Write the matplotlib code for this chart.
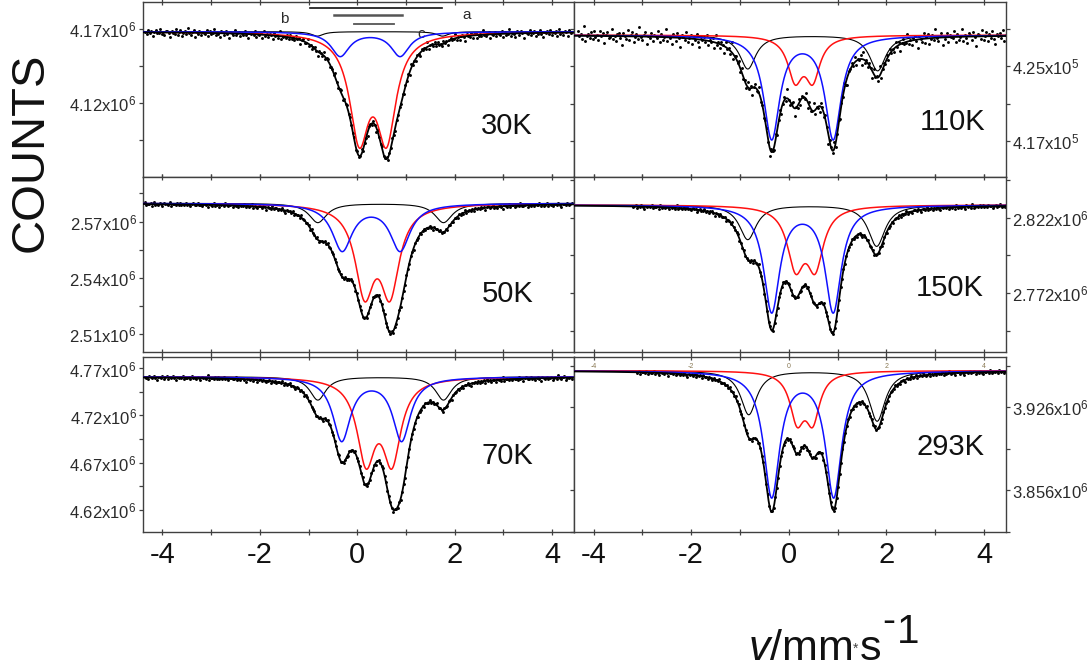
import numpy as np
import matplotlib
matplotlib.use('Agg')
import matplotlib.pyplot as plt
from matplotlib.ticker import FixedLocator, FixedFormatter
import matplotlib.transforms as mtransforms

plt.rcParams['font.family'] = ['Liberation Sans', 'DejaVu Sans']
plt.rcParams['mathtext.fontset'] = 'custom'
plt.rcParams['mathtext.rm'] = 'Liberation Sans'
plt.rcParams['mathtext.it'] = 'Liberation Sans:italic'

# ---------------- data ----------------
temps = ['30K', '110K', '50K', '150K', '70K', '293K']
baseline = [4.168e6, 428300, 2.5798e6, 2.8307e6, 4.7613e6, 3.9569e6]

# outer doublet (thin black)
black_pos = [[-0.82, 1.75], [-0.84, 1.82], [-0.81, 1.77], [-0.84, 1.80], [-0.81, 1.77], [-0.82, 1.81]]
black_depth = [[3000, 3000], [3600, 3800], [10300, 10300], [23000, 27500], [24800, 24800], [37000, 42500]]
black_fwhm = [0.30, 0.40, 0.44, 0.42, 0.40, 0.40]
# blue doublet
blue_pos = [[-0.35, 0.88], [-0.35, 0.91], [-0.31, 0.88], [-0.35, 0.91], [-0.32, 0.91], [-0.35, 0.92]]
blue_depth = [[16300, 16300], [10930, 10930], [24800, 24800], [70400, 70400], [67100, 67100], [105000, 105000]]
blue_fwhm = [0.46, 0.40, 0.50, 0.40, 0.44, 0.40]
# red doublet
red_pos = [[0.04, 0.60], [0.13, 0.49], [0.15, 0.67], [0.14, 0.54], [0.18, 0.71], [0.17, 0.49]]
red_depth = [[67900, 67900], [4440, 4440], [44900, 44900], [38200, 38200], [85200, 85200], [38900, 38900]]
red_fwhm = [0.48, 0.36, 0.47, 0.41, 0.45, 0.35]

# measured velocity range of the points, and scatter size (counts)
v_start = [-4.35, -4.32, -4.36, -3.20, -4.36, -3.10]
v_end = [4.42, 4.45, 4.42, 4.45, 4.40, 4.45]
scatter = [1600, 480, 650, 800, 1300, 1000]
# hand-typed residual pattern (units of scatter)
residuals = [0.3, -0.8, 1.2, -0.1, 0.6, -1.5, 0.2, 0.9, -0.4, -0.2, 1.6, -0.7, 0.1, -1.1, 0.5,
             0.8, -0.3, -1.9, 0.7, 0.0, -0.6, 1.3, -0.9, 0.4, 1.0, -1.3, -0.2, 0.6, -0.5, 2.0,
             -0.1, -0.8, 0.3, 1.1, -1.6, 0.2, -0.4, 0.9, -1.0, 0.5, 0.1, -0.3, 1.4, -1.2, 0.7,
             -0.6, 0.0, 1.8, -0.9, 0.3, -0.2, -1.4, 0.8, 0.4, -0.7, 1.0, -0.1, -2.1, 0.6, 0.2,
             -0.5, 1.5, -0.8, 0.1, 0.9, -1.1, 0.4, -0.3, 1.2, -0.6, -1.7, 0.5, 0.0, 0.7, -0.4,
             1.3, -1.0, 0.2, -0.2, 0.8, -1.3, 1.7, -0.5, 0.3, -0.9, 0.6, 0.1, -1.5, 1.1, -0.1,
             0.4, -0.7, 2.2, -1.2, 0.0, 0.5, -0.4, 0.9, -0.8, 1.0, -0.3]

# y axes
ylims = [(4.070e6, 4.188e6), (413160, 431830), (2.5004e6, 2.5938e6),
         (2.7327e6, 2.8493e6), (4.5961e6, 4.7822e6), (3.8208e6, 3.9684e6)]
ymajor = [[4.12e6, 4.17e6], [417000, 425000], [2.51e6, 2.54e6, 2.57e6],
          [2.772e6, 2.822e6], [4.62e6, 4.67e6, 4.72e6, 4.77e6], [3.856e6, 3.926e6]]
ymajor_labels = [['4.12x10$^6$', '4.17x10$^6$'], ['4.17x10$^5$', '4.25x10$^5$'],
                 ['2.51x10$^6$', '2.54x10$^6$', '2.57x10$^6$'], ['2.772x10$^6$', '2.822x10$^6$'],
                 ['4.62x10$^6$', '4.67x10$^6$', '4.72x10$^6$', '4.77x10$^6$'],
                 ['3.856x10$^6$', '3.926x10$^6$']]
yminor = [[4.095e6, 4.145e6], [421000, 429000], [2.525e6, 2.555e6, 2.585e6],
          [2.747e6, 2.797e6, 2.847e6], [4.595e6, 4.645e6, 4.695e6, 4.745e6], [3.821e6, 3.891e6, 3.961e6]]

xticks = [-4, -2, 0, 2, 4]
xtick_labels = ['-4', '-2', '0', '2', '4']
xminor = [-3, -1, 1, 3]

# panel label positions (pixels in figure)
label_px = [(507, 126), (953, 122), (508, 294), (950, 288), (507, 456), (950, 447)]

# ---------------- figure ----------------
W, H = 1090, 670
fig = plt.figure(figsize=(W / 100, H / 100), dpi=100)

cols = [(143, 574), (574, 1006)]
rows = [(2, 177), (177, 352), (357, 532)]
XLIM = (-4.4, 4.45)


def lorentz(x, pos, depth, fwhm):
    out = np.zeros_like(x)
    for p, d in zip(pos, depth):
        out += d / (1.0 + ((x - p) / (fwhm / 2.0)) ** 2)
    return out


axes = []
for i in range(6):
    r, c = divmod(i, 2)
    x0, x1 = cols[c]
    y0, y1 = rows[r]
    ax = fig.add_axes([x0 / W, 1 - y1 / H, (x1 - x0) / W, (y1 - y0) / H])
    axes.append(ax)
    b = baseline[i]

    xx = np.linspace(XLIM[0], XLIM[1], 1200)
    bk = lorentz(xx, black_pos[i], black_depth[i], black_fwhm[i])
    bl = lorentz(xx, blue_pos[i], blue_depth[i], blue_fwhm[i])
    rd = lorentz(xx, red_pos[i], red_depth[i], red_fwhm[i])

    v = np.arange(v_start[i], v_end[i], 0.03)
    model_v = b - (lorentz(v, black_pos[i], black_depth[i], black_fwhm[i])
                   + lorentz(v, blue_pos[i], blue_depth[i], blue_fwhm[i])
                   + lorentz(v, red_pos[i], red_depth[i], red_fwhm[i]))
    res = np.resize(np.roll(np.array(residuals), 13 * i), v.size)
    ax.plot(v, model_v + scatter[i] * res, 'o', ms=2.1, mew=0, color='black', zorder=2)

    ax.plot(xx, b - bk, color='black', lw=0.8, zorder=3)
    ax.plot(xx, b - rd, color='#ff1010', lw=1.1, zorder=4)
    ax.plot(xx, b - bl, color='#1010ff', lw=1.1, zorder=5)
    ax.plot(xx, b - (bk + bl + rd), color='black', lw=1.3, zorder=6)

    ax.set_xlim(*XLIM)
    ax.set_ylim(*ylims[i])
    ax.xaxis.set_major_locator(FixedLocator(xticks))
    ax.xaxis.set_minor_locator(FixedLocator(xminor))
    ax.yaxis.set_major_locator(FixedLocator(ymajor[i]))
    ax.yaxis.set_major_formatter(FixedFormatter(ymajor_labels[i]))
    ax.yaxis.set_minor_locator(FixedLocator(yminor[i]))

    for s in ax.spines.values():
        s.set_color('#404040')
        s.set_linewidth(1.0)

    ax.tick_params(axis='x', which='both', direction='inout', top=True, bottom=True,
                   color='#404040', width=0.9)
    ax.tick_params(axis='x', which='major', length=5)
    ax.tick_params(axis='x', which='minor', length=4)
    if r == 2:
        ax.set_xticklabels(xtick_labels)
        ax.tick_params(axis='x', labelsize=21, pad=4, labelcolor='#111111')
    else:
        ax.tick_params(axis='x', labelbottom=False)

    ax.tick_params(axis='y', which='both', direction='out', color='#404040', width=0.9,
                   labelsize=12, labelcolor='#2a2a2a', pad=1.5)
    ax.tick_params(axis='y', which='major', length=3)
    ax.tick_params(axis='y', which='minor', length=3)
    if c == 0:
        ax.tick_params(axis='y', which='both', left=True, right=False, labelleft=True, labelright=False)
    else:
        ax.tick_params(axis='y', which='both', left=True, right=True, labelleft=False, labelright=True)

    lx, ly = label_px[i]
    fig.text(lx / W, 1 - ly / H, temps[i], fontsize=21, ha='center', va='center', color='#111111')

# stick diagram in the 30K panel
ax0 = axes[0]
tr = mtransforms.blended_transform_factory(ax0.transData, ax0.transAxes)
ax0.plot([-0.98, 1.74], [0.966, 0.966], color='#111111', lw=1.2, transform=tr, clip_on=False)
ax0.plot([-0.47, 0.91], [0.925, 0.925], color='#555555', lw=1.8, transform=tr)
ax0.plot([-0.06, 0.76], [0.877, 0.877], color='#555555', lw=1.3, transform=tr)
ax0.text(-1.49, 0.905, 'b', transform=tr, fontsize=11, ha='center', va='center', color='#2a2a2a')
ax0.text(2.25, 0.925, 'a', transform=tr, fontsize=11, ha='center', va='center', color='#2a2a2a')
ax0.text(1.32, 0.82, 'c', transform=tr, fontsize=11, ha='center', va='center', color='#2a2a2a')

# tiny stray tick labels at the top of the 293K panel
ax5 = axes[5]
tr5 = mtransforms.blended_transform_factory(ax5.transData, ax5.transAxes)
for xv, lab in zip(xticks, xtick_labels):
    ax5.text(xv, 0.945, lab, transform=tr5, fontsize=5, ha='center', va='center', color='#8a7a55')

# axis titles
fig.text(31 / W, 1 - 152 / H, 'COUNTS', rotation=90, fontsize=34, ha='center', va='center', color='#111111')

renderer = fig.canvas.get_renderer()
base_y = 1 - 660 / H
t1 = fig.text(748 / W, base_y, r'$\mathit{v}$/mm', fontsize=31, ha='left', va='baseline', color='#111111')
e1 = t1.get_window_extent(renderer)
t2 = fig.text((e1.x1 + 1) / W, 1 - 653 / H, '*', fontsize=10, ha='left', va='baseline', color='#444444')
e2 = t2.get_window_extent(renderer)
t3 = fig.text((e2.x1 + 1) / W, base_y, 's', fontsize=31, ha='left', va='baseline', color='#111111')
e3 = t3.get_window_extent(renderer)
t4 = fig.text((e3.x1 + 1) / W, 1 - 632 / H, '-', fontsize=28, ha='left', va='baseline', color='#111111')
e4 = t4.get_window_extent(renderer)
t5 = fig.text((e4.x1 + 2) / W, 1 - 643 / H, '1', fontsize=29, ha='left', va='baseline', color='#111111')

fig.savefig('out.png', dpi=100)
